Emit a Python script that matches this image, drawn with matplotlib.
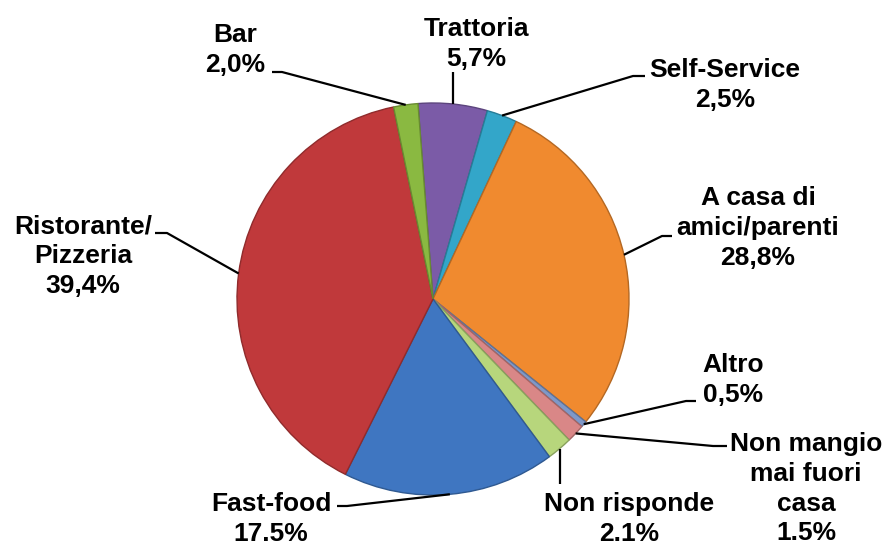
import matplotlib

matplotlib.use("Agg")
import matplotlib.pyplot as plt
import numpy as np
from matplotlib.colors import to_rgb

# --- data (clockwise from the top) ---
labels = ["Trattoria", "Self-Service", "A casa di\namici/parenti", "Altro",
          "Non mangio\nmai fuori\ncasa", "Non risponde", "Fast-food",
          "Ristorante/\nPizzeria", "Bar"]
values = [5.7, 2.5, 28.8, 0.5, 1.5, 2.1, 17.5, 39.4, 2.0]
value_text = ["5,7%", "2,5%", "28,8%", "0,5%", "1.5%", "2.1%", "17.5%",
              "39,4%", "2,0%"]
colors = ["#7b5ba7", "#33a6c9", "#f08a2f", "#7f98c8", "#d98787",
          "#b7d67c", "#3f76c1", "#c0393b", "#8ab941"]

W, H = 888, 547
CX, CY, R = 433, 299, 196      # pie centre / radius in pixels (y down)

# label layout, same order as labels: text x, first baseline (px, y down),
# leader elbow points (None x = straight vertical leader)
label_x = [476, 725, 758, 733, 806, 629, 271, 83, 235]
label_base = [36, 77, 205, 372, 451, 511, 511, 233, 42]
elbows = [
    [(None, 72)],
    [(633, 76), (645, 76)],
    [(662, 236), (672, 236)],
    [(686, 401), (696, 401)],
    [(713, 446), (727, 446)],
    [(None, 484)],
    [(347, 506), (337, 506)],
    [(167, 233), (155, 233)],
    [(282, 72), (272, 72)],
]
LINE_GAP = 29.8


def Y(y):
    return H - y


def darker(c, f=0.75):
    return tuple(v * f for v in to_rgb(c))


fig = plt.figure(figsize=(W / 100, H / 100), dpi=100)
ax = fig.add_axes([0, 0, 1, 1])

wedges, _ = ax.pie(values, colors=colors, startangle=94.4,
                   counterclock=False, center=(CX, Y(CY)), radius=R,
                   wedgeprops=dict(linewidth=1.0))
for w, c in zip(wedges, colors):
    w.set_edgecolor(darker(c))

font = dict(family=["Liberation Sans", "DejaVu Sans"], weight="bold",
            fontsize=19, color="black")

for w, lab, pct, tx, base, elb in zip(wedges, labels, value_text,
                                      label_x, label_base, elbows):
    for i, line in enumerate(lab.split("\n") + [pct]):
        ax.text(tx, Y(base + i * LINE_GAP), line, ha="center",
                va="baseline", **font)

    # leader from the wedge mid-angle on the rim to the label
    ang = np.deg2rad((w.theta1 + w.theta2) / 2)
    px, py = CX + R * np.cos(ang), Y(CY) + R * np.sin(ang)
    xs, ys = [px], [py]
    for ex, ey in elb:
        xs.append(px if ex is None else ex)
        ys.append(Y(ey))
    ax.plot(xs, ys, color="black", linewidth=1.6, solid_capstyle="butt")

ax.set_xlim(0, W)
ax.set_ylim(0, H)
ax.set_aspect("equal")
ax.axis("off")

fig.savefig("out.png", dpi=100)
